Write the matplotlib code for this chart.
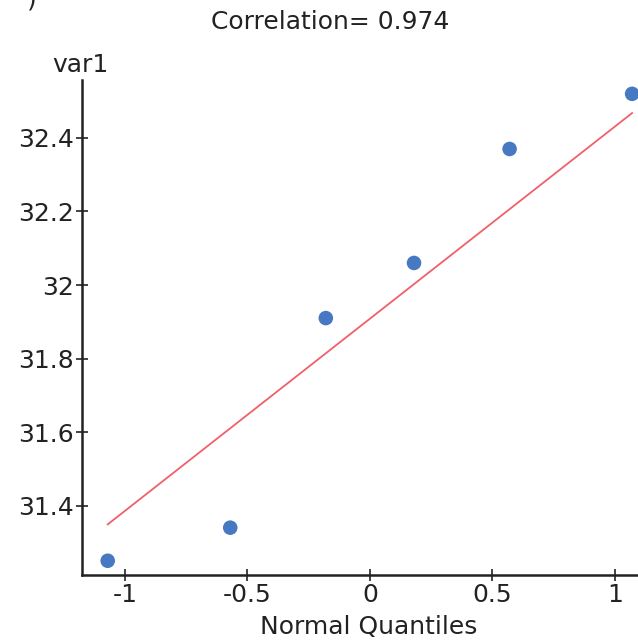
import matplotlib.pyplot as plt
import numpy as np

# normal quantiles (x) and observed values of var1 (y)
quantiles = [-1.07, -0.57, -0.18, 0.18, 0.57, 1.07]
var1 = [31.25, 31.34, 31.91, 32.06, 32.37, 32.52]
x_ticks = [-1, -0.5, 0, 0.5, 1]
x_tick_labels = ["-1", "-0.5", "0", "0.5", "1"]
y_ticks = [31.4, 31.6, 31.8, 32.0, 32.2, 32.4]
y_tick_labels = ["31.4", "31.6", "31.8", "32", "32.2", "32.4"]
title = "Correlation= 0.974"

plt.rcParams['font.family'] = ['DejaVu Sans']

fig = plt.figure(figsize=(6.38, 6.44), dpi=100)
ax = fig.add_axes([0.1285, 0.107, 0.8715, 0.769])

x = np.array(quantiles)
y = np.array(var1)

# reference line: mean + sd * quantile
mu = y.mean()
sd = y.std(ddof=1)
ax.plot([x.min(), x.max()], [mu + sd * x.min(), mu + sd * x.max()],
        color="#f0606a", lw=1.3, zorder=2)
ax.scatter(x, y, s=110, color="#4778c2", edgecolors="none", zorder=3)

ax.set_xlim(-1.175, 1.094)
ax.set_ylim(31.211, 32.558)
ax.set_xticks(x_ticks)
ax.set_xticklabels(x_tick_labels)
ax.set_yticks(y_ticks)
ax.set_yticklabels(y_tick_labels)

for side in ["top", "right"]:
    ax.spines[side].set_visible(False)
for side in ["left", "bottom"]:
    ax.spines[side].set_linewidth(1.8)
    ax.spines[side].set_color("#222222")

ax.tick_params(direction="inout", length=9, width=1.2, colors="#222222",
               labelsize=18, labelcolor="#222222", pad=1)

fig.text(0.518, 0.966, title, ha="center", va="center", fontsize=18, color="#222222")
fig.text(0.578, 0.026, "Normal Quantiles", ha="center", va="center", fontsize=18, color="#222222")
fig.text(0.126, 0.899, "var1", ha="center", va="center", fontsize=18, color="#222222")
fig.text(0.05, 1.0, ")", ha="center", va="center", fontsize=18, color="#222222")

fig.savefig("out.png", dpi=100)
